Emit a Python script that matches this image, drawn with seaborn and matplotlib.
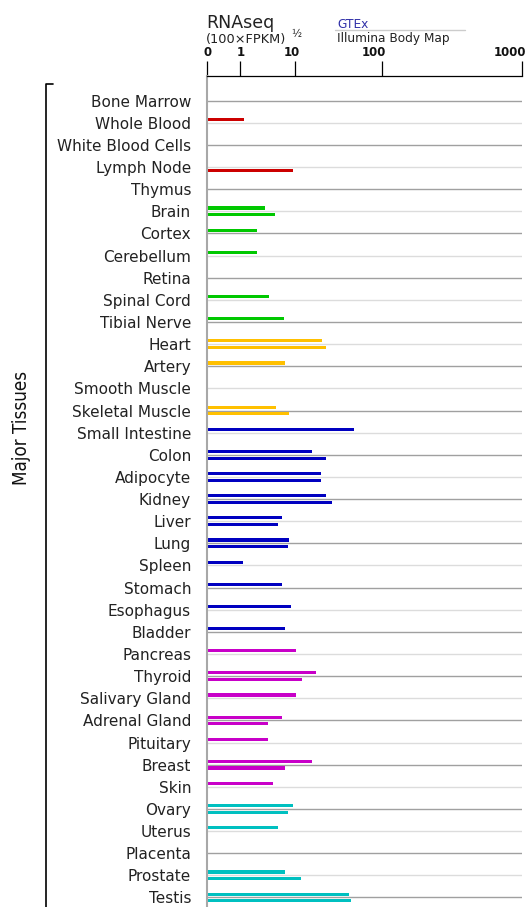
import numpy as np
import pandas as pd
import matplotlib
matplotlib.use('Agg')
import matplotlib.pyplot as plt
import matplotlib.transforms as mtransforms
from matplotlib.lines import Line2D
import seaborn as sns

# 组织名称（从上到下）
TISSUES = [
    'Bone Marrow', 'Whole Blood', 'White Blood Cells', 'Lymph Node', 'Thymus',
    'Brain', 'Cortex', 'Cerebellum', 'Retina', 'Spinal Cord', 'Tibial Nerve',
    'Heart', 'Artery', 'Smooth Muscle', 'Skeletal Muscle',
    'Small Intestine', 'Colon', 'Adipocyte', 'Kidney', 'Liver', 'Lung', 'Spleen',
    'Stomach', 'Esophagus', 'Bladder',
    'Pancreas', 'Thyroid', 'Salivary Gland', 'Adrenal Gland', 'Pituitary',
    'Breast', 'Skin',
    'Ovary', 'Uterus', 'Placenta', 'Prostate', 'Testis',
]

# 组织分组（决定颜色）
GROUPS = (['blood'] * 5 + ['neural'] * 6 + ['muscle'] * 4 + ['internal'] * 10
          + ['secretory'] * 7 + ['reproductive'] * 5)

nan = np.nan
# GTEx 数值
GTEX = [nan, 1.2, nan, nan, nan,
        2.8, 2.0, 2.0, nan, 3.4, 6.2,
        20.4, 6.7, nan, 4.6,
        48.0, 15.7, 19.7, 22.9, 5.9, 7.7, 1.14, 5.9, 8.3, 6.7,
        10.4, 17.6, 10.4, 5.9, 3.2, 15.7, 4.05,
        9.3, 4.9, nan, 6.7, 41.5]
# Illumina Body Map 数值
ILLUMINA = [nan, nan, nan, 9.3, nan,
            4.3, nan, nan, nan, nan, nan,
            22.9, nan, nan, 7.7,
            nan, 22.9, 19.7, 26.8, 4.9, 7.4, nan, nan, nan, nan,
            nan, 12.0, nan, 3.2, nan, 6.7, nan,
            7.4, nan, nan, 11.6, 44.5]

# 坐标轴刻度
TICKS = [0, 1, 10, 100, 1000]
TICK_LABELS = ['0', '1', '10', '100', '1000']
# 刻度在轴上的相对位置（像素），用于自定义非线性坐标
TICK_POS = [0, 33, 88, 174.7, 314.7]

PALETTE = {
    'blood': '#cc0000',
    'neural': '#00c800',
    'muscle': '#ffc000',
    'internal': '#0000c0',
    'secretory': '#c800c8',
    'reproductive': '#00c0c0',
}


def _g(v):
    v = np.asarray(v, dtype=float)
    return np.where(v < 1, v - 1, np.log10(np.maximum(v, 1e-12)))


def fwd(v):
    return np.interp(_g(v), _g(TICKS), TICK_POS)


def inv(p):
    gv = np.interp(np.asarray(p, dtype=float), TICK_POS, _g(TICKS))
    return np.where(gv < 0, gv + 1, 10 ** gv)


# 构建数据表
rows = []
for i, t in enumerate(TISSUES):
    for vals, off in ((GTEX, -0.15), (ILLUMINA, 0.15)):
        v = vals[i]
        if not np.isnan(v):
            rows.append({'tissue': t, 'pos': i + off, 'value': v, 'group': GROUPS[i]})
df = pd.DataFrame(rows)

sns.set_theme(style='white')
plt.rcParams['font.family'] = ['DejaVu Sans']

W, H = 526, 907
fig = plt.figure(figsize=(W / 100, H / 100), dpi=100)
ax = fig.add_axes([207 / W, 0, 314.7 / W, (H - 76) / H])


def px(x, y):
    return x / W, 1 - y / H


# 行分隔线（深浅交替）
for i in range(len(TISSUES)):
    ax.axhline(i, color='#a0a0a0' if i % 2 == 0 else '#dcdcdc', lw=1.0, zorder=0.5)

sns.barplot(data=df, x='value', y='pos', hue='group', palette=PALETTE,
            orient='y', native_scale=True, dodge=False, width=0.48,
            errorbar=None, legend=False, saturation=1, linewidth=0, ax=ax)

ax.set_xscale('function', functions=(fwd, inv))
ax.set_xlim(0, 1000)
ax.set_ylim(36.43, -1.116)

ax.set_yticks(range(len(TISSUES)))
ax.set_yticklabels(TISSUES, fontsize=11, color='#222222')
ax.tick_params(axis='y', length=0, pad=11.5)

ax.xaxis.tick_top()
ax.set_xticks(TICKS)
ax.set_xticklabels(TICK_LABELS, fontsize=8.5, fontweight='bold', color='#111111')
ax.tick_params(axis='x', direction='out', length=11, width=0.9, color='black', pad=1.5)
ax.set_xlabel('')
ax.set_ylabel('')

for side in ['right', 'bottom']:
    ax.spines[side].set_visible(False)
ax.spines['top'].set_color('black')
ax.spines['top'].set_linewidth(0.9)
ax.spines['left'].set_color('#a8a8a8')
ax.spines['left'].set_linewidth(1.5)

# 标题文字
fig.text(*px(206, 22.5), 'RNAseq', fontsize=12.5, color='#222222', va='center', ha='left')
fig.text(*px(206, 40), '(100×FPKM)', fontsize=9.3, color='#222222', va='center', ha='left')
fig.text(*px(291, 34), '½', fontsize=7.5, color='#222222', va='center', ha='left')
fig.text(*px(337, 24), 'GTEx', fontsize=8.7, color='#3030a8', va='center', ha='left')
fig.add_artist(Line2D([335 / W, 465 / W], [1 - 29.5 / H] * 2, color='#cccccc', lw=1))
fig.text(*px(337, 38.5), 'Illumina Body Map', fontsize=8.7, color='#222222', va='center', ha='left')

# 左侧括号与分组标题
fig.add_artist(Line2D([46 / W, 46 / W, 52.5 / W], [0, 1 - 84 / H, 1 - 84 / H], color='black', lw=1.2))
fig.text(*px(22, 428), 'Major Tissues', rotation=90, fontsize=13.5, color='#111111',
         va='center', ha='center', fontstretch='condensed')

# 刻度标签右对齐在刻度右侧
shift = mtransforms.ScaledTranslation(4.5 / 100, 0, fig.dpi_scale_trans)
for lbl in ax.get_xticklabels():
    lbl.set_horizontalalignment('right')
    lbl.set_transform(lbl.get_transform() + shift)

fig.savefig('out.png', dpi=100)
